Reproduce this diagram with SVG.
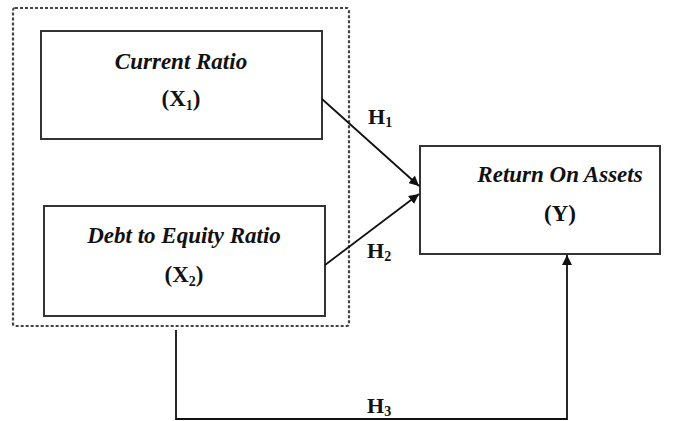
<svg xmlns="http://www.w3.org/2000/svg" width="689" height="421" viewBox="0 0 689 421">
<style>
.box{fill:#fff;stroke:#333;stroke-width:2}
.grp{fill:none;stroke:#444;stroke-width:2.2;stroke-dasharray:3 2}
.lbl{font-family:"Liberation Serif","Times New Roman",serif;font-weight:bold;font-style:italic;font-size:23px;fill:#111;text-anchor:middle}
.var{font-family:"Liberation Serif","Times New Roman",serif;font-weight:bold;font-size:23px;fill:#111;text-anchor:middle}
.h{font-family:"Liberation Serif","Times New Roman",serif;font-weight:bold;font-size:22px;fill:#111}
.sub{font-size:14px}
.con{fill:none;stroke:#111;stroke-width:1.8}
</style>
<defs>
<marker id="ah" viewBox="0 0 10 10" refX="10" refY="5" markerWidth="10" markerHeight="10" markerUnits="userSpaceOnUse" orient="auto">
<path d="M0,0 L10,5 L0,10 z" fill="#111"/>
</marker>
</defs>
<rect class="grp" x="13" y="8" width="336" height="318" rx="2"/>
<g id="x1">
<rect class="box" x="41" y="31" width="281" height="108"/>
<text class="lbl" x="181" y="69">Current Ratio</text>
<text class="var" x="181" y="106">(X<tspan class="sub" dy="4">1</tspan><tspan dy="-4">)</tspan></text>
</g>
<g id="x2">
<rect class="box" x="44" y="206" width="281" height="110"/>
<text class="lbl" x="184" y="243">Debt to Equity Ratio</text>
<text class="var" x="184" y="282">(X<tspan class="sub" dy="4">2</tspan><tspan dy="-4">)</tspan></text>
</g>
<g id="y">
<rect class="box" x="420" y="146" width="240" height="108"/>
<text class="lbl" x="560" y="182">Return On Assets</text>
<text class="var" x="560" y="221">(Y)</text>
</g>
<g id="connectors">
<line class="con" x1="322" y1="99" x2="419" y2="186" marker-end="url(#ah)"/>
<line class="con" x1="325" y1="265" x2="419" y2="194" marker-end="url(#ah)"/>
<polyline class="con" points="176,330 176,419 567,419 567,255" marker-end="url(#ah)"/>
<text class="h" x="368" y="124">H<tspan class="sub" dy="3">1</tspan></text>
<text class="h" x="367" y="258">H<tspan class="sub" dy="3">2</tspan></text>
<text class="h" x="367" y="413">H<tspan class="sub" dy="3">3</tspan></text>
</g>
</svg>
